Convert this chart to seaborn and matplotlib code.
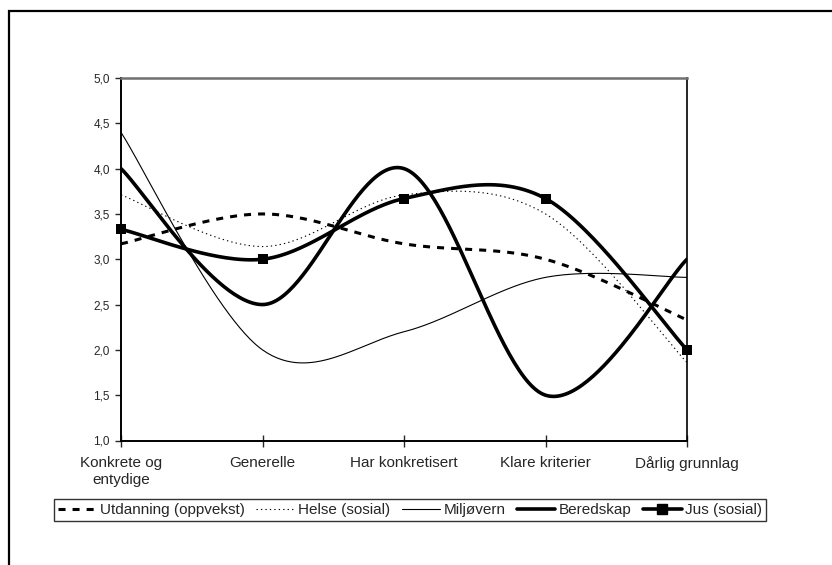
import numpy as np
import pandas as pd
import matplotlib
matplotlib.use("Agg")
import matplotlib.pyplot as plt
import seaborn as sns
from matplotlib.lines import Line2D
from matplotlib.patches import Rectangle
from matplotlib.ticker import FuncFormatter

categories = ["Konkrete og\nentydige", "Generelle", "Har konkretisert", "Klare kriterier", "Dårlig grunnlag"]
utdanning = [3.17, 3.5, 3.17, 3.0, 2.33]
helse = [3.71, 3.14, 3.71, 3.5, 1.86]
miljovern = [4.4, 2.0, 2.2, 2.8, 2.8]
beredskap = [4.0, 2.5, 4.0, 1.5, 3.0]
jus = [3.33, 3.0, 3.67, 3.67, 2.0]
series_names = ["Utdanning (oppvekst)", "Helse (sosial)", "Miljøvern", "Beredskap", "Jus (sosial)"]

sns.set_style("white")
plt.rcParams["font.family"] = ["Liberation Sans", "DejaVu Sans"]


def smooth(xs, ys, n=60):
    """Excel-like smoothed line (Catmull-Rom Bezier) through the data points."""
    P = np.column_stack([xs, ys]).astype(float)
    m = len(P)
    out = []
    for i in range(m - 1):
        p0 = P[i - 1] if i > 0 else P[i]
        p1 = P[i]
        p2 = P[i + 1]
        p3 = P[i + 2] if i + 2 < m else P[i + 1]
        c1 = p1 + (p2 - p0) / 6.0
        c2 = p2 - (p3 - p1) / 6.0
        t = np.linspace(0, 1, n)[:, None]
        seg = ((1 - t) ** 3) * p1 + 3 * ((1 - t) ** 2) * t * c1 + 3 * (1 - t) * t ** 2 * c2 + t ** 3 * p2
        out.append(seg if i == 0 else seg[1:])
    return np.vstack(out)


xpos = np.arange(len(categories))
all_series = [utdanning, helse, miljovern, beredskap, jus]

fig = plt.figure(figsize=(8.32, 5.65), dpi=100)
ax = fig.add_axes([121 / 832, 1 - 440.5 / 565, (687 - 121) / 832, (440.5 - 78) / 565])

styles = [
    dict(lw=2.2, ls=(0, (2.3, 2.3))),
    dict(lw=0.8, ls=(0, (1.2, 2.8))),
    dict(lw=0.8, ls="-"),
    dict(lw=2.6, ls="-"),
    dict(lw=2.6, ls="-"),
]

for name, vals, st in zip(series_names, all_series, styles):
    curve = smooth(xpos, vals)
    df = pd.DataFrame({"x": curve[:, 0], "y": curve[:, 1]})
    sns.lineplot(data=df, x="x", y="y", ax=ax, color="black", linewidth=st["lw"],
                 linestyle=st["ls"], sort=False, estimator=None, legend=False)

dfj = pd.DataFrame({"x": xpos, "y": jus})
sns.scatterplot(data=dfj, x="x", y="y", ax=ax, marker="s", s=55, color="black",
                edgecolor="black", linewidth=0, legend=False, zorder=5, clip_on=False)

ax.set_xlim(0, 4)
ax.set_ylim(1, 5)
ax.set_xticks(xpos)
ax.set_xticklabels(categories, fontsize=11)
ax.set_yticks(np.arange(1.0, 5.01, 0.5))
ax.yaxis.set_major_formatter(FuncFormatter(lambda v, p: f"{v:.1f}".replace(".", ",")))
ax.tick_params(axis="y", direction="out", length=4, width=1, labelsize=8.5, pad=4, left=True)
ax.tick_params(axis="x", direction="inout", length=8, width=1, pad=7, bottom=True)
ax.set_xlabel("")
ax.set_ylabel("")

for side in ["left", "bottom", "right"]:
    ax.spines[side].set_visible(True)
    ax.spines[side].set_color("black")
ax.spines["left"].set_linewidth(1.4)
ax.spines["bottom"].set_linewidth(1.4)
ax.spines["right"].set_linewidth(1.2)
ax.spines["top"].set_visible(True)
ax.spines["top"].set_color("#707070")
ax.spines["top"].set_linewidth(1.8)
for lab in ax.get_xticklabels():
    lab.set_linespacing(1.25)

handles = []
for st in styles[:4]:
    handles.append(Line2D([], [], color="black", lw=st["lw"], ls=st["ls"]))
handles.append(Line2D([], [], color="black", lw=2.6, marker="s", markersize=6.5))

leg = fig.legend(handles, series_names, loc="center", bbox_to_anchor=(410 / 832, 1 - 510 / 565),
                 ncol=5, fontsize=11, frameon=True, fancybox=False, handlelength=2.5,
                 handletextpad=0.25, columnspacing=0.75, borderpad=0.25, borderaxespad=0,
                 numpoints=1)
leg.get_frame().set_edgecolor("black")
leg.get_frame().set_linewidth(1.0)

top = 1 - 11 / 565
fig.add_artist(Rectangle((8.5 / 832, -0.2), 1.2, top + 0.2, transform=fig.transFigure,
                         fill=False, edgecolor="black", linewidth=1.6, clip_on=False))

fig.savefig("out.png", dpi=100, facecolor="white")
